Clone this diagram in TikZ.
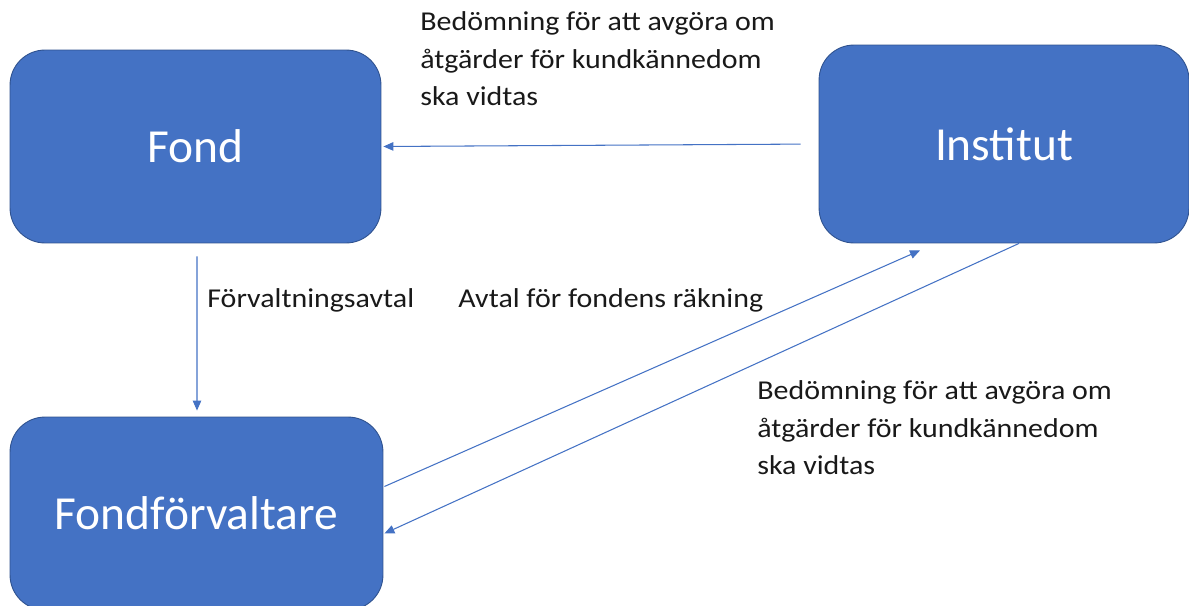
\documentclass[tikz,border=0pt]{standalone}
\usepackage{fontspec}
\setmainfont{Carlito}
\newfontfamily\notefont[FakeStretch=1.1]{Carlito}
\usetikzlibrary{arrows.meta}
\definecolor{officeblue}{HTML}{4472C4}
\definecolor{officeedge}{HTML}{2F528F}
\tikzstyle{actor}=[rectangle,rounded corners=0.7cm,fill=officeblue,draw=officeedge,line width=0.5pt,text=white,font=\fontsize{27}{32}\selectfont,inner sep=0pt]
\tikzstyle{flow}=[-{Triangle[length=2mm,width=1.7mm]},draw=officeblue,line width=0.6pt]
\tikzstyle{note}=[align=left,inner sep=0pt,text=black!90,font=\notefont\fontsize{15.5}{21.3}\selectfont]

\begin{document}
\begin{tikzpicture}[x=0.02cm,y=-0.02cm]
                  \useasboundingbox (0,0) rectangle (1189,605);

                  \node (fond) at (195.5,146.5) [actor,minimum width=7.42cm,minimum height=3.86cm] {Fond};
                  \node (institut) at (1004,144) [actor,minimum width=7.4cm,minimum height=3.96cm] {Institut};
                  \node (forvaltare) at (196.5,513.5) [actor,minimum width=7.46cm,minimum height=3.86cm] {Fondförvaltare};

                  \node (bedomning1) at (420,59) [note,anchor=west] {Bedömning för att avgöra om\\åtgärder för kundkännedom\\ska vidtas};
                  \node (avtal1) at (207,300) [note,anchor=west] {Förvaltningsavtal};
                  \node (avtal2) at (458,300) [note,anchor=west] {Avtal för fondens räkning};
                  \node (bedomning2) at (757,428) [note,anchor=west] {Bedömning för att avgöra om\\åtgärder för kundkännedom\\ska vidtas};

                  \draw [flow,shorten <=0.36cm,shorten >=0.04cm] (institut.west) -- (fond.east);
                  \draw [flow,shorten <=0.26cm,shorten >=0.12cm] ([xshift=0.03cm]fond.south) -- ([xshift=0.01cm]forvaltare.north);
                  \draw [flow] ([xshift=0.02cm,yshift=0.54cm]forvaltare.east) -- ([xshift=-1.68cm,yshift=-0.14cm]institut.south);
                  \draw [flow] ([xshift=0.3cm]institut.south) -- ([xshift=0.02cm,yshift=-0.4cm]forvaltare.east);
              \end{tikzpicture}
\end{document}
